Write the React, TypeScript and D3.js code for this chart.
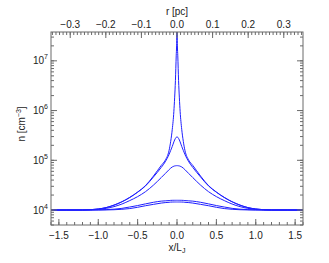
import React from "react";
import * as d3 from "d3";

const W = 329;
const H = 263;
const margin = { top: 32, right: 26, bottom: 38, left: 51 };

// axis ranges
const xDomain = [-1.6, 1.6];
const rDomain = [-0.354, 0.354]; // r [pc] on the top axis
const yDomain = [5000, 3.8e7];

const xTicks = [-1.5, -1.0, -0.5, 0.0, 0.5, 1.0, 1.5];
const rTicks = [-0.3, -0.2, -0.1, 0.0, 0.1, 0.2, 0.3];
const yTickExps = [4, 5, 6, 7];

// x/L_J sample positions shared by all profiles
const xGrid = [
  -1.6, -1.4, -1.2, -1.1, -1.0, -0.9, -0.8, -0.7, -0.6, -0.5, -0.4, -0.3, -0.2, -0.15, -0.1, -0.08,
  -0.06, -0.04, -0.03, -0.02, -0.01, -0.005, 0, 0.005, 0.01, 0.02, 0.03, 0.04, 0.06, 0.08, 0.1, 0.15,
  0.2, 0.3, 0.4, 0.5, 0.6, 0.7, 0.8, 0.9, 1.0, 1.1, 1.2, 1.4, 1.6,
];

// density profiles n [cm^-3]
const nSpike = [
  1e4, 1e4, 1.002e4, 1.015e4, 1.05e4, 1.12e4, 1.26e4, 1.47e4, 1.8e4, 2.3e4, 3.1e4, 4.8e4, 7.9e4, 1.0e5, 1.6e5, 2.4e5,
  4.2e5, 9.5e5, 1.8e6, 4.0e6, 1.26e7, 2.0e7, 5e7, 2.0e7, 1.26e7, 4.0e6, 1.8e6, 9.5e5, 4.2e5, 2.4e5, 1.6e5, 1.0e5,
  7.9e4, 4.8e4, 3.1e4, 2.3e4, 1.8e4, 1.47e4, 1.26e4, 1.12e4, 1.05e4, 1.015e4, 1.002e4, 1e4, 1e4,
];
const nHigh = [
  1e4, 1e4, 1.002e4, 1.015e4, 1.05e4, 1.12e4, 1.25e4, 1.46e4, 1.78e4, 2.28e4, 3.05e4, 4.6e4, 7.2e4, 9.3e4, 1.32e5, 1.58e5,
  1.9e5, 2.34e5, 2.56e5, 2.75e5, 2.9e5, 2.94e5, 2.95e5, 2.94e5, 2.9e5, 2.75e5, 2.56e5, 2.34e5, 1.9e5, 1.58e5, 1.32e5, 9.3e4,
  7.2e4, 4.6e4, 3.05e4, 2.28e4, 1.78e4, 1.46e4, 1.25e4, 1.12e4, 1.05e4, 1.015e4, 1.002e4, 1e4, 1e4,
];
const nMid = [
  1e4, 1e4, 1e4, 1.01e4, 1.03e4, 1.08e4, 1.17e4, 1.32e4, 1.55e4, 1.86e4, 2.34e4, 3.16e4, 4.5e4, 5.4e4, 6.5e4, 6.95e4,
  7.35e4, 7.6e4, 7.7e4, 7.75e4, 7.8e4, 7.8e4, 7.8e4, 7.8e4, 7.8e4, 7.75e4, 7.7e4, 7.6e4, 7.35e4, 6.95e4, 6.5e4, 5.4e4,
  4.5e4, 3.16e4, 2.34e4, 1.86e4, 1.55e4, 1.32e4, 1.17e4, 1.08e4, 1.03e4, 1.01e4, 1e4, 1e4, 1e4,
];
const nBumpA = [
  1e4, 1e4, 1e4, 1.002e4, 1.007e4, 1.02e4, 1.04e4, 1.08e4, 1.15e4, 1.23e4, 1.33e4, 1.43e4, 1.51e4, 1.53e4, 1.55e4, 1.563e4,
  1.567e4, 1.57e4, 1.57e4, 1.57e4, 1.57e4, 1.57e4, 1.57e4, 1.57e4, 1.57e4, 1.57e4, 1.57e4, 1.57e4, 1.567e4, 1.563e4, 1.55e4, 1.53e4,
  1.51e4, 1.43e4, 1.33e4, 1.23e4, 1.15e4, 1.08e4, 1.04e4, 1.02e4, 1.007e4, 1.002e4, 1e4, 1e4, 1e4,
];
const nBumpB = [
  1e4, 1e4, 1e4, 1e4, 1e4, 1.005e4, 1.014e4, 1.035e4, 1.07e4, 1.135e4, 1.22e4, 1.3e4, 1.38e4, 1.41e4, 1.43e4, 1.443e4,
  1.447e4, 1.45e4, 1.45e4, 1.45e4, 1.45e4, 1.45e4, 1.45e4, 1.45e4, 1.45e4, 1.45e4, 1.45e4, 1.45e4, 1.447e4, 1.443e4, 1.43e4, 1.41e4,
  1.38e4, 1.3e4, 1.22e4, 1.135e4, 1.07e4, 1.035e4, 1.014e4, 1.005e4, 1e4, 1e4, 1e4, 1e4, 1e4,
];

const profiles = [nSpike, nHigh, nMid, nBumpA, nBumpB];

const lineColor = "#1f1fff";
const axisColor = "#6a6a6a";
const textColor = "#222";
const font = "'Liberation Sans', Arial, sans-serif";

export default function App() {
  const x0 = margin.left;
  const x1 = W - margin.right;
  const y0 = margin.top;
  const y1 = H - margin.bottom;

  const x = d3.scaleLinear().domain(xDomain).range([x0, x1]);
  const r = d3.scaleLinear().domain(rDomain).range([x0, x1]);
  const y = d3.scaleLog().domain(yDomain).range([y1, y0]);

  const line = d3
    .line<number>()
    .x((_, i) => x(xGrid[i]))
    .y((d) => y(d))
    .curve(d3.curveMonotoneX);

  // minor ticks
  const xMinor = d3.range(-16, 17).map((i) => i / 10);
  const rMinor = d3.range(-35, 36).map((i) => i / 100);
  const yMinor: number[] = [];
  for (let e = 3; e <= 7; e++) {
    for (let k = 1; k <= 9; k++) {
      const v = k * Math.pow(10, e);
      if (v >= yDomain[0] && v <= yDomain[1]) yMinor.push(v);
    }
  }
  const fmt = (v: number, d: number) => (v < 0 ? "\u2212" : "") + Math.abs(v).toFixed(d);

  return (
    <svg
      width={W}
      height={H}
      style={{ position: "absolute", left: 0, top: 0, background: "#fff" }}
      fontFamily={font}
    >
      <defs>
        <clipPath id="plot">
          <rect x={x0} y={y0} width={x1 - x0} height={y1 - y0} />
        </clipPath>
      </defs>

      <g clipPath="url(#plot)">
        {profiles.map((p, i) => (
          <path key={i} d={line(p) || ""} fill="none" stroke={lineColor} strokeWidth={1} />
        ))}
      </g>

      {/* frame */}
      <rect x={x0} y={y0} width={x1 - x0} height={y1 - y0} fill="none" stroke={axisColor} strokeWidth={1} />

      {/* bottom + top ticks in x/L_J and r */}
      <g stroke={axisColor} strokeWidth={1}>
        {xMinor.map((v) => (
          <line key={"xb" + v} x1={x(v)} x2={x(v)} y1={y1} y2={y1 - 3} />
        ))}
        {xTicks.map((v) => (
          <line key={"xB" + v} x1={x(v)} x2={x(v)} y1={y1} y2={y1 - 6} />
        ))}
        {rMinor.map((v) => (
          <line key={"rt" + v} x1={r(v)} x2={r(v)} y1={y0} y2={y0 + 3} />
        ))}
        {rTicks.map((v) => (
          <line key={"rT" + v} x1={r(v)} x2={r(v)} y1={y0} y2={y0 + 6} />
        ))}
        {yMinor.map((v) => (
          <g key={"ym" + v}>
            <line x1={x0} x2={x0 + 3} y1={y(v)} y2={y(v)} />
            <line x1={x1} x2={x1 - 3} y1={y(v)} y2={y(v)} />
          </g>
        ))}
        {yTickExps.map((e) => (
          <g key={"yM" + e}>
            <line x1={x0} x2={x0 + 6} y1={y(Math.pow(10, e))} y2={y(Math.pow(10, e))} />
            <line x1={x1} x2={x1 - 6} y1={y(Math.pow(10, e))} y2={y(Math.pow(10, e))} />
          </g>
        ))}
      </g>

      <g fill={textColor} fontSize={10}>
        {xTicks.map((v) => (
          <text key={"xl" + v} x={x(v)} y={y1 + 14} textAnchor="middle">
            {fmt(v, 1)}
          </text>
        ))}
        {rTicks.map((v) => (
          <text key={"rl" + v} x={r(v)} y={y0 - 4} textAnchor="middle">
            {fmt(v, 1)}
          </text>
        ))}
        {yTickExps.map((e) => (
          <text key={"yl" + e} x={48} y={y(Math.pow(10, e)) + 3.5} textAnchor="end">
            10
            <tspan dy={-5} fontSize={7}>
              {e}
            </tspan>
          </text>
        ))}
        <text x={(x0 + x1) / 2} y={y1 + 26} textAnchor="middle">
          x/L
          <tspan dy={2} fontSize={7}>
            J
          </tspan>
        </text>
        <text x={(x0 + x1) / 2} y={15} textAnchor="middle">
          r [pc]
        </text>
        <text transform={`translate(25,124) rotate(-90)`} textAnchor="middle">
          n [cm
          <tspan dy={-4} fontSize={7}>
            {"\u22123"}
          </tspan>
          <tspan dy={4}>]</tspan>
        </text>
      </g>
    </svg>
  );
}
